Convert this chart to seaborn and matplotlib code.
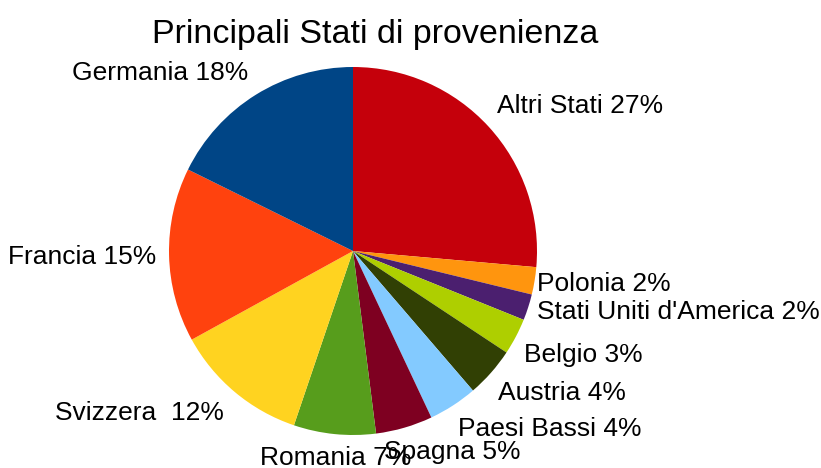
import matplotlib
matplotlib.use("Agg")
import matplotlib.pyplot as plt
import seaborn as sns

# shares (clockwise from 12 o'clock)
countries = ["Altri Stati", "Polonia", "Stati Uniti d'America", "Belgio", "Austria",
             "Paesi Bassi", "Spagna", "Romania", "Svizzera", "Francia", "Germania"]
shares = [26.4, 2.4, 2.3, 3.2, 4.4, 4.3, 5.0, 7.2, 11.8, 15.3, 17.7]
labels = ["Altri Stati 27%", "Polonia 2%", "Stati Uniti d'America 2%", "Belgio 3%",
          "Austria 4%", "Paesi Bassi 4%", "Spagna 5%", "Romania 7%", "Svizzera  12%",
          "Francia 15%", "Germania 18%"]
colors = ["#c5000b", "#ff950e", "#4b1f6f", "#aecf00", "#314004", "#83caff",
          "#7e0021", "#579d1c", "#ffd320", "#ff420e", "#004586"]

# label anchors (pie radius = 1) and alignment
label_pos = [(0.78, 0.79, "left"), (1.0, -0.18, "left"), (1.0, -0.33, "left"),
             (0.93, -0.565, "left"), (0.79, -0.77, "left"), (0.57, -0.97, "left"),
             (0.17, -1.09, "left"), (-0.505, -1.125, "left"), (-0.70, -0.88, "right"),
             (-1.07, -0.03, "right"), (-0.57, 0.97, "right")]

sns.set_style("white")
plt.rcParams["font.family"] = ["Liberation Sans", "DejaVu Sans"]

fig = plt.figure(figsize=(8.21, 4.68), dpi=100)
ax = fig.add_axes([0, 0, 1, 1])
ax.pie(shares, colors=colors, startangle=90, counterclock=False, radius=1,
       wedgeprops=dict(linewidth=0))
ax.set_xlim(-353 / 184, (821 - 353) / 184)
ax.set_ylim(-(468 - 251) / 184, 251 / 184)
ax.set_aspect("equal")
ax.axis("off")

for lab, (x, y, ha) in zip(labels, label_pos):
    ax.text(x, y, lab, ha=ha, va="center", fontsize=19, color="#000000")

ax.text(0.12, 1.175, "Principali Stati di provenienza", ha="center", va="center",
        fontsize=24.5, color="#000000")

fig.savefig("out.png", dpi=100)
